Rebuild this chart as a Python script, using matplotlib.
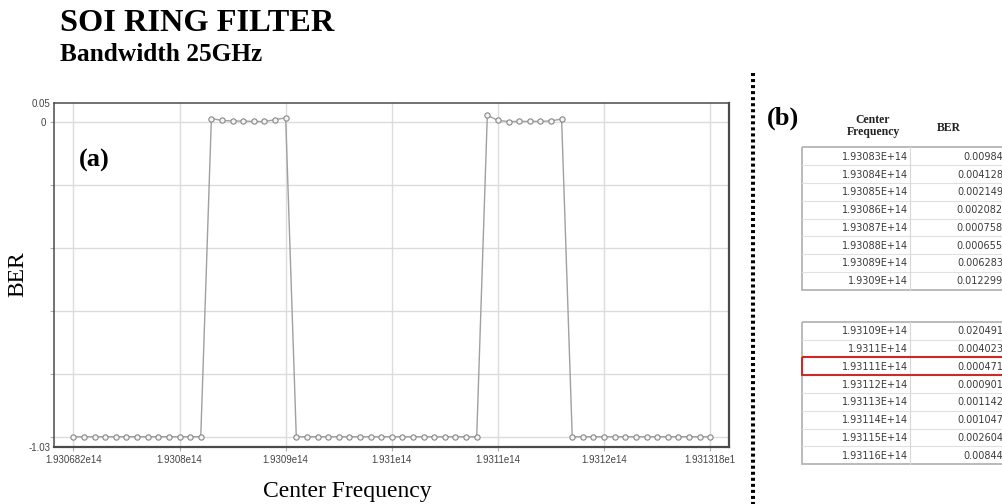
import numpy as np
import matplotlib
matplotlib.use('Agg')
import matplotlib.pyplot as plt
from matplotlib.patches import Rectangle

# frequency sweep, 1 GHz step
freq_start = 1.9307e14
freq_step = 1e9
n_points = 61
freq = freq_start + freq_step * np.arange(n_points)

# BER inside the two passbands (from table b); -1 outside
band1_ber = [0.00984, 0.004128, 0.002149, 0.002082, 0.000758, 0.000655, 0.006283, 0.012299]
band2_ber = [0.020491, 0.004023, 0.000471, 0.000901, 0.001142, 0.001047, 0.002604, 0.00844]
off_level = -1.0
ber = [off_level] * 13 + band1_ber + [off_level] * 18 + band2_ber + [off_level] * 14
band1_idx = 13
band2_idx = 39

xtick_pos = freq[::10]
xtick_labels = ['1.930682e14', '1.9308e14', '1.9309e14', '1.931e14',
                '1.9311e14', '1.9312e14', '1.931318e1']
ygrid_pos = [-1.0, -0.8, -0.6, -0.4, -0.2, 0.0]
y_lo, y_hi = -1.0317, 0.0584

SERIF = 'Liberation Serif'
SANS = 'Liberation Sans'

fig = plt.figure(figsize=(10.02, 5.04), dpi=100)
W, H = 1002, 504

ax = fig.add_axes([54.3 / W, 1 - 446.7 / H, 675 / W, 343.4 / H])
ax.plot(freq, ber, color='#a0a0a0', lw=1.0, marker='o', ms=3.8,
        mfc='#f4f4f4', mec='#888888', mew=0.8, zorder=3)
ax.set_xlim(1.930682e14, 1.931318e14)
ax.set_ylim(y_lo, y_hi)
ax.set_xticks(xtick_pos, labels=xtick_labels)
ax.set_yticks(ygrid_pos, labels=['', '', '', '', '', '0'])
ax.set_yticks([y_lo, y_hi], labels=['-1.03', '0.05'], minor=True)
ax.grid(True, which='major', color='#dcdcdc', lw=1.0)
ax.tick_params(which='both', length=3, width=0.8, color='#b0b0b0',
               labelsize=7, labelcolor='#444444', pad=3)
ax.tick_params(axis='y', which='minor', length=0)
for lab in ax.get_xticklabels() + ax.get_yticklabels(which='both'):
    lab.set_family(SANS)
for sp in ax.spines.values():
    sp.set_color('#4a4a4a')
    sp.set_linewidth(1.1)
ax.spines['bottom'].set_linewidth(1.6)
ax.spines['right'].set_linewidth(1.6)

# overlay in pixel coordinates for titles, labels and the table
tax = fig.add_axes([0, 0, 1, 1])
tax.set_xlim(0, W)
tax.set_ylim(H, 0)
tax.axis('off')

tax.text(60, 30.7, 'SOI RING FILTER', family=SERIF, weight='bold', fontsize=23.3, va='baseline')
tax.text(60, 61, 'Bandwidth 25GHz', family=SERIF, weight='bold', fontsize=18.3, va='baseline')
tax.text(347, 497, 'Center Frequency', family=SERIF, fontsize=17, ha='center', va='baseline')
tax.text(18, 274, 'BER', family=SERIF, fontsize=17, rotation=90, ha='center', va='center')
tax.text(79, 160, '(a)', family=SERIF, weight='bold', fontsize=19, ha='left', va='center')
tax.text(767, 118, '(b)', family=SERIF, weight='bold', fontsize=19, ha='left', va='center')

tax.plot([753, 753], [73, 504], color='black', lw=2.9, ls=(0, (0.75, 0.75)),
         dash_capstyle='butt')

# table headers
tax.text(873, 126, 'Center\nFrequency', family=SERIF, weight='bold', fontsize=8.5,
         ha='center', va='center', linespacing=0.95, color='#222222')
tax.text(949, 128, 'BER', family=SERIF, weight='bold', fontsize=8.5,
         ha='center', va='center', color='#222222')

x0, xdiv, x1 = 802, 910.5, 1012
row_h = 17.8


def draw_table(top, start_idx, vals):
    n = len(vals)
    for i, v in enumerate(vals):
        y = top + i * row_h
        if i > 0:
            tax.plot([x0, x1], [y, y], color='#e0e0e0', lw=0.8)
        yc = y + row_h / 2
        f_txt = f'{freq[start_idx + i] / 1e14:g}E+14'
        tax.text(xdiv - 2.5, yc + 0.5, f_txt, family='DejaVu Sans', fontsize=7,
                 ha='right', va='center', color='#3a3a3a')
        tax.text(1003, yc + 0.5, str(v), family='DejaVu Sans', fontsize=7,
                 ha='right', va='center', color='#3a3a3a')
    tax.plot([xdiv, xdiv], [top, top + n * row_h], color='#d8d8d8', lw=0.8)
    tax.add_patch(Rectangle((x0, top), x1 - x0, n * row_h, fill=False,
                            ec='#b4b4b4', lw=1.3))


draw_table(147.3, band1_idx, band1_ber)
draw_table(321.7, band2_idx, band2_ber)

# highlighted row
tax.add_patch(Rectangle((x0, 321.7 + 2 * row_h), x1 - x0, row_h, fill=False,
                        ec='#cc2a2a', lw=1.5, zorder=5))

fig.savefig('out.png', dpi=100)
